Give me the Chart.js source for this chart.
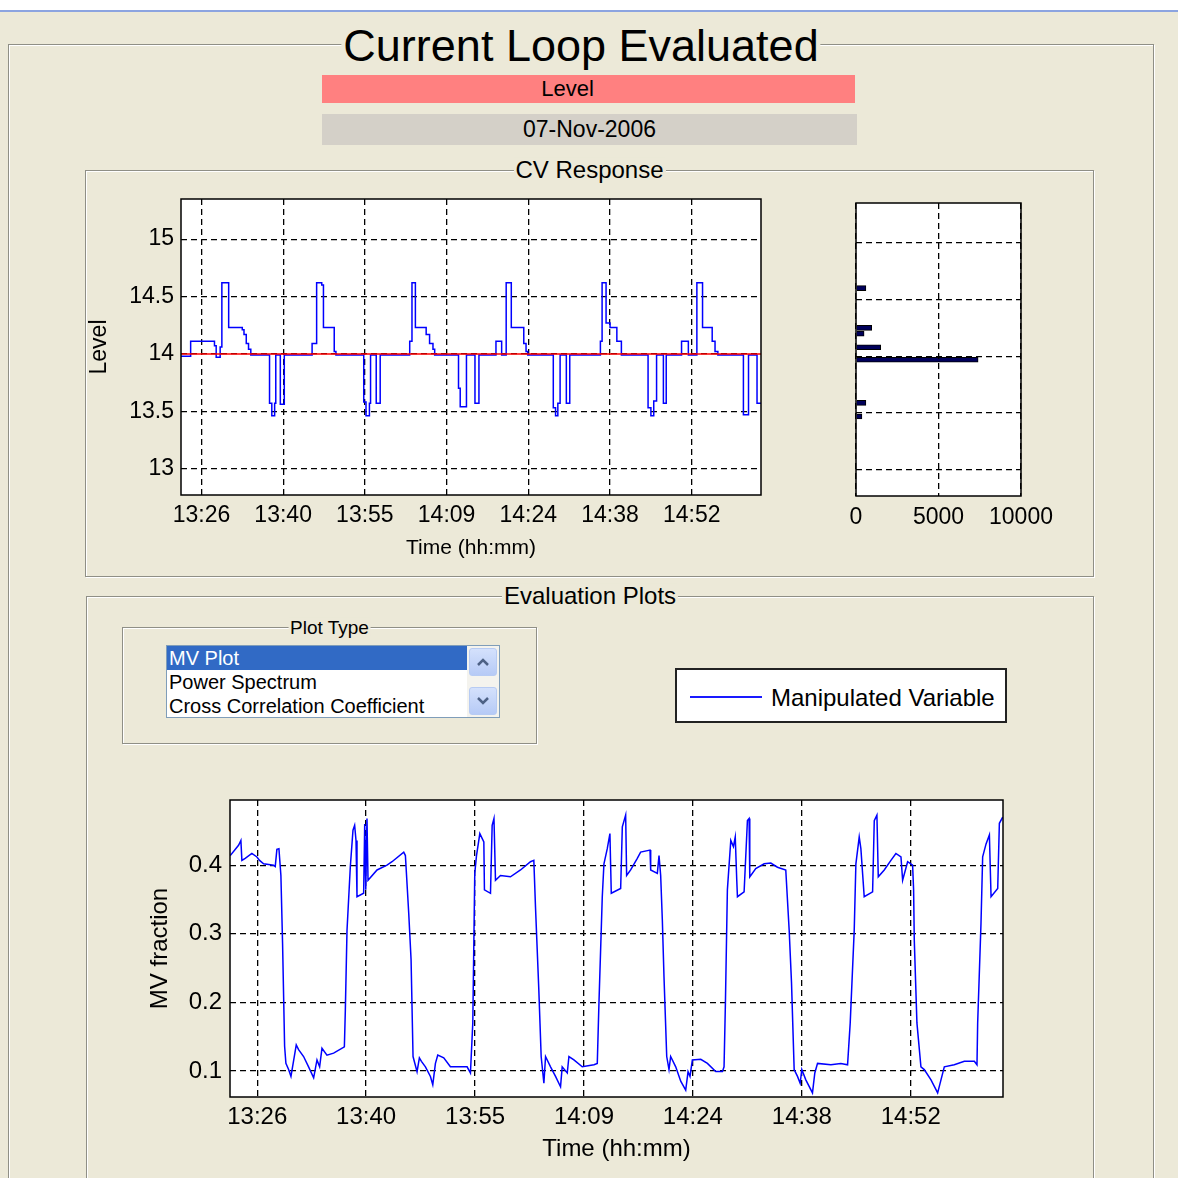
<!DOCTYPE html>
<html><head><meta charset="utf-8">
<script src="https://cdn.jsdelivr.net/npm/chart.js@4.4.1/dist/chart.umd.min.js"></script>
<style>
html,body{margin:0;padding:0;}
body{width:1178px;height:1178px;background:#ECE9D8;position:relative;overflow:hidden;font-family:"Liberation Sans",Arial,sans-serif;color:#000;}
.topstrip{position:absolute;left:0;top:0;width:1178px;height:10px;background:#fff;border-bottom:2px solid #8CA4E0;}
.frame{position:absolute;border:1px solid #8f8f86;box-shadow:1px 1px 0 #fff, inset 1px 1px 0 #fff;box-sizing:border-box;}
.ftitle{position:absolute;left:50%;top:0;transform:translate(-50%,-55%);background:#ECE9D8;padding:0 2px;white-space:nowrap;line-height:1;}
.bar{position:absolute;text-align:center;}
canvas{position:absolute;}
.list{position:absolute;left:166px;top:645px;width:334px;height:73px;background:#fff;border:1px solid #7F9DB9;box-sizing:border-box;font-size:20px;}
.row{position:absolute;left:0;width:300px;height:24px;line-height:24px;padding-left:2px;white-space:nowrap;}
.sb{position:absolute;right:0;top:0;width:32px;height:71px;background:#F4F3EE;}
.btn{position:absolute;left:2px;width:28px;height:28px;box-sizing:border-box;border:1px solid #B7CBF3;border-radius:3px;background:linear-gradient(#D4E1FC,#B6CAF6);}
.legend{position:absolute;left:675px;top:668px;width:332px;height:55px;background:#fff;border:2px solid #222;box-sizing:border-box;}
</style></head>
<body>
<div class="topstrip"></div>
<div class="frame" style="left:8px;top:44px;width:1146px;height:1200px;">
  <div class="ftitle" style="font-size:45px;transform:translate(-50%,-50%);">Current Loop Evaluated</div>
</div>
<div class="bar" style="left:322px;top:75px;width:533px;height:28px;line-height:28px;background:#FF8080;font-size:22px;"><span style="position:relative;left:-21px;">Level</span></div>
<div class="bar" style="left:322px;top:114px;width:535px;height:31px;line-height:31px;background:#D4D0C8;font-size:23px;">07-Nov-2006</div>
<div class="frame" style="left:85px;top:170px;width:1009px;height:407px;">
  <div class="ftitle" style="font-size:24px;">CV Response</div>
</div>
<div class="frame" style="left:86px;top:596px;width:1008px;height:700px;">
  <div class="ftitle" style="font-size:24px;">Evaluation Plots</div>
</div>
<div class="frame" style="left:122px;top:627px;width:415px;height:117px;">
  <div class="ftitle" style="font-size:19px;">Plot Type</div>
</div>
<div class="list">
  <div class="row" style="top:0;background:#316AC5;color:#fff;">MV Plot</div>
  <div class="row" style="top:24px;">Power Spectrum</div>
  <div class="row" style="top:48px;">Cross Correlation Coefficient</div>
  <div class="sb">
    <div class="btn" style="top:2px;"><svg width="26" height="26" style="position:absolute;left:0;top:0"><polyline points="8,16 13,11 18,16" fill="none" stroke="#4D6185" stroke-width="2.5"/></svg></div>
    <div class="btn" style="top:41px;"><svg width="26" height="26" style="position:absolute;left:0;top:0"><polyline points="8,10 13,15 18,10" fill="none" stroke="#4D6185" stroke-width="2.5"/></svg></div>
  </div>
</div>
<div class="legend">
  <div style="position:absolute;left:13px;top:26px;width:72px;height:2px;background:#1a1aff;"></div>
  <div style="position:absolute;left:94px;top:2px;height:51px;line-height:51px;font-size:24px;white-space:nowrap;">Manipulated Variable</div>
</div>

<canvas id="cv" width="690" height="375" style="left:82px;top:190px;"></canvas>
<canvas id="hist" width="240" height="342" style="left:830px;top:194px;"></canvas>
<canvas id="mv" width="880" height="378" style="left:142px;top:790px;"></canvas>

<script>
// ---- Data (time in minutes after midnight) ----
const timeTickValues = [806.4, 820.8, 835.2, 849.6, 864.0, 878.4, 892.8];
const timeTickLabels = ['13:26', '13:40', '13:55', '14:09', '14:24', '14:38', '14:52'];
const timeMin = 802.8, timeMax = 905.0;

const levelTicks = [13, 13.5, 14, 14.5, 15];
const levelMin = 12.77, levelMax = 15.35;
const mvTicks = [0.1, 0.2, 0.3, 0.4];
const mvMin = 0.062, mvMax = 0.495;
const histTicks = [0, 5000, 10000];

const levelTime = [802.7, 804.5, 808.7, 809.0, 809.7, 810.0, 811.2, 813.6, 813.9, 814.3, 814.7, 815.1,
  818.4, 818.8, 819.3, 819.5, 820.3, 821.0,
  825.9, 826.7, 827.6, 827.9, 829.8, 830.1,
  835.0, 835.4, 836.0, 836.2, 837.2, 837.9,
  843.1, 843.5, 844.1, 846.0, 846.6, 847.2, 847.5,
  851.7, 852.0, 853.1, 854.6, 855.3,
  858.3, 859.3, 860.1, 861.0, 863.2, 863.6, 863.9,
  868.4, 868.8, 869.2, 869.6, 870.7, 871.3,
  876.7, 877.0, 877.7, 878.4, 879.6, 880.4,
  885.1, 885.6, 886.1, 886.6, 887.8, 888.3,
  891.0, 892.2, 893.7, 894.7, 896.4, 896.9, 897.4,
  901.9, 902.8, 904.3, 905.0];
const levelValue = [13.98, 14.11, 14.07, 13.97, 14.06, 14.62, 14.23, 14.21, 14.17, 14.09, 14.04, 13.99,
  13.57, 13.46, 13.57, 13.99, 13.56, 13.99,
  14.09, 14.62, 14.60, 14.23, 14.02, 13.99,
  13.58, 13.46, 13.57, 13.99, 13.57, 13.99,
  14.11, 14.62, 14.23, 14.17, 14.09, 14.04, 13.99,
  13.70, 13.54, 13.99, 13.57, 13.99,
  14.11, 13.99, 14.62, 14.23, 14.09, 14.02, 13.99,
  13.53, 13.46, 13.57, 13.99, 13.57, 13.99,
  14.11, 14.62, 14.27, 14.23, 14.11, 13.99,
  13.53, 13.46, 13.59, 13.99, 13.57, 13.99,
  14.11, 13.99, 14.62, 14.23, 14.11, 14.02, 13.99,
  13.47, 13.99, 13.57, 13.57];

const setpointTime = [802.7, 905.0];
const setpointValue = [14.0, 14.0];

const histLevel = [14.60, 14.25, 14.20, 14.08, 13.97, 13.59, 13.47];
const histCount = [600, 950, 490, 1500, 7400, 600, 360];

const mvTime = [802.83, 803.93, 804.24, 804.37, 804.81, 805.69, 806.36, 806.71, 807.24, 808.56, 808.78, 809.00, 809.27, 809.53, 809.75,
  810.02, 810.19, 810.55, 810.86, 811.56, 811.87, 812.53, 813.19, 813.86, 814.30, 814.65, 814.96, 815.62, 816.50, 817.92,
  818.05, 818.27, 818.71, 819.06, 819.28, 819.46, 819.59, 820.47, 820.61, 820.75, 820.91, 821.05, 822.24, 823.56, 824.22,
  825.77, 825.99, 826.43, 826.74, 827.00, 827.53, 827.84, 828.11, 828.64, 829.30, 829.61, 829.96, 830.27, 831.06, 831.94,
  834.15, 834.59, 834.90, 835.16, 835.39, 835.83, 836.36, 836.44, 837.24, 837.46, 837.70, 837.90, 838.56, 839.88, 841.21,
  842.53, 842.97, 843.19, 843.63, 843.94, 844.30, 844.52, 845.18, 845.84, 846.50, 846.72, 847.39, 847.61, 848.27, 849.37,
  850.92, 851.36, 851.58, 852.02, 852.24, 852.68, 853.03, 853.12, 853.21, 854.45, 854.67, 855.11, 855.24, 855.77, 856.65,
  857.09, 858.33, 858.42, 859.30, 859.52, 859.74, 859.96, 860.18, 860.54, 860.84, 861.06, 861.73, 862.39, 863.05, 863.36,
  863.62, 863.93, 865.04, 865.92, 867.02, 867.90, 868.12, 868.30, 868.56, 869.01, 869.36, 869.60, 869.80, 869.89, 870.77,
  871.21, 871.43, 871.52, 872.31, 873.42, 874.30, 875.18, 876.28, 876.73, 877.04, 877.39, 877.83, 878.18, 878.40, 878.93,
  879.81, 880.12, 880.48, 882.24, 883.56, 884.45, 884.80, 885.33, 885.55, 885.99, 886.21, 886.65, 887.76, 887.98, 888.33,
  888.51, 889.30, 890.18, 890.84, 891.51, 891.73, 892.39, 893.05, 893.18, 893.27, 893.62, 894.15, 894.59, 895.48, 896.36,
  896.80, 897.24, 898.56, 899.89, 901.21, 901.56, 901.65, 902.09, 902.31, 902.76, 903.20, 903.42, 904.30, 904.52, 904.96];
const mvValue = [0.414, 0.429, 0.436, 0.407, 0.410, 0.417, 0.412, 0.407, 0.402, 0.400, 0.398, 0.423, 0.424, 0.385, 0.286,
  0.136, 0.111, 0.102, 0.092, 0.138, 0.131, 0.121, 0.106, 0.090, 0.116, 0.106, 0.133, 0.123, 0.126, 0.135,
  0.189, 0.305, 0.398, 0.451, 0.458, 0.436, 0.354, 0.359, 0.460, 0.364, 0.468, 0.378, 0.393, 0.400, 0.405,
  0.419, 0.414, 0.330, 0.262, 0.121, 0.099, 0.119, 0.114, 0.106, 0.092, 0.080, 0.111, 0.123, 0.119, 0.106,
  0.106, 0.097, 0.170, 0.388, 0.414, 0.446, 0.434, 0.364, 0.359, 0.458, 0.468, 0.378, 0.385, 0.383, 0.393,
  0.405, 0.407, 0.339, 0.218, 0.121, 0.082, 0.121, 0.106, 0.092, 0.077, 0.106, 0.097, 0.121, 0.116, 0.106,
  0.109, 0.111, 0.199, 0.354, 0.402, 0.424, 0.446, 0.402, 0.359, 0.366, 0.456, 0.473, 0.385, 0.393, 0.410,
  0.419, 0.422, 0.393, 0.388, 0.414, 0.385, 0.320, 0.237, 0.121, 0.102, 0.121, 0.106, 0.085, 0.072, 0.099,
  0.092, 0.116, 0.117, 0.111, 0.099, 0.099, 0.106, 0.199, 0.364, 0.436, 0.427, 0.441, 0.378, 0.354, 0.361,
  0.465, 0.468, 0.383, 0.395, 0.402, 0.403, 0.397, 0.393, 0.305, 0.228, 0.102, 0.092, 0.082, 0.102, 0.087,
  0.068, 0.097, 0.111, 0.109, 0.111, 0.109, 0.170, 0.305, 0.402, 0.441, 0.424, 0.354, 0.361, 0.465, 0.473,
  0.383, 0.393, 0.407, 0.417, 0.412, 0.378, 0.405, 0.400, 0.364, 0.291, 0.170, 0.106, 0.102, 0.087, 0.068,
  0.087, 0.106, 0.109, 0.114, 0.114, 0.109, 0.170, 0.315, 0.412, 0.431, 0.444, 0.354, 0.366, 0.461, 0.470];

// ---- Rendering ----
Chart.defaults.font.family = '"Liberation Sans", Arial, sans-serif';
Chart.defaults.color = '#000';
Chart.defaults.animation = false;

const GRID = {color: '#000', lineWidth: 1.3, drawTicks: false, offset: false};
const BORDER = {display: false, dash: [6, 4]};

const boxPlugin = {
  id: 'boxPlugin',
  beforeDraw(c) {
    const a = c.chartArea, x = c.ctx;
    x.save(); x.fillStyle = '#fff';
    x.fillRect(a.left, a.top, a.right - a.left, a.bottom - a.top);
    x.restore();
  },
  afterDraw(c) {
    const a = c.chartArea, x = c.ctx;
    x.save(); x.strokeStyle = '#000'; x.lineWidth = 1.5;
    x.strokeRect(a.left, a.top, a.right - a.left, a.bottom - a.top);
    x.restore();
  }
};
const fitY = w => s => { s.width = w; s.paddingTop = 0; s.paddingBottom = 0; };
const fitX = h => s => { s.height = h; s.paddingLeft = 0; s.paddingRight = 0; };
const setTicks = vals => s => { s.ticks = vals.map(v => ({value: v})); };
const pts = (xs, ys) => xs.map((x, i) => ({x: x, y: ys[i]}));

function timeAxis(h, pad, tickSize, titleSize) {
  return {
    type: 'linear', min: timeMin, max: timeMax, offset: false,
    afterBuildTicks: setTicks(timeTickValues), afterFit: fitX(h),
    ticks: {font: {size: tickSize}, padding: pad, autoSkip: false, maxRotation: 0,
      callback: (v, i) => timeTickLabels[i]},
    grid: GRID, border: BORDER,
    title: {display: true, text: 'Time (hh:mm)', font: {size: titleSize}}
  };
}

new Chart(document.getElementById('cv'), {
  type: 'line',
  data: {datasets: [
    {label: 'Setpoint', data: pts(setpointTime, setpointValue), borderColor: '#ff0000', borderWidth: 1.5, pointRadius: 0, order: 0},
    {label: 'Level', data: pts(levelTime, levelValue), borderColor: '#0000ff', borderWidth: 1.5, pointRadius: 0, stepped: true, order: 1}
  ]},
  options: {
    responsive: false,
    layout: {padding: {top: 9, right: 11, bottom: 0, left: 0}},
    plugins: {legend: {display: false}, tooltip: {enabled: false}},
    scales: {
      x: timeAxis(70, 7, 23, 21),
      y: {type: 'linear', min: levelMin, max: levelMax,
        afterBuildTicks: setTicks(levelTicks), afterFit: fitY(99),
        ticks: {font: {size: 23}, padding: 7, callback: v => String(v)},
        grid: GRID, border: BORDER,
        title: {display: true, text: 'Level', font: {size: 23}}}
    }
  },
  plugins: [boxPlugin]
});

new Chart(document.getElementById('hist'), {
  type: 'bar',
  data: {datasets: [
    {label: 'Count', data: histLevel.map((l, i) => ({x: histCount[i], y: l})),
      backgroundColor: '#00005a', borderColor: '#000', borderWidth: 1, barThickness: 5}
  ]},
  options: {
    responsive: false, indexAxis: 'y',
    layout: {padding: {top: 9, right: 49, bottom: 0, left: 0}},
    plugins: {legend: {display: false}, tooltip: {enabled: false}},
    scales: {
      x: {type: 'linear', min: 0, max: 10000, offset: false,
        afterBuildTicks: setTicks(histTicks), afterFit: fitX(40),
        ticks: {font: {size: 23}, padding: 8, autoSkip: false, maxRotation: 0, callback: v => String(v)},
        grid: Object.assign({}, GRID, {z: 1}), border: BORDER},
      y: {type: 'linear', min: levelMin, max: levelMax, offset: false,
        afterBuildTicks: setTicks(levelTicks), afterFit: fitY(26),
        ticks: {display: false},
        grid: Object.assign({}, GRID, {z: 1}), border: BORDER}
    }
  },
  plugins: [boxPlugin]
});

new Chart(document.getElementById('mv'), {
  type: 'line',
  data: {datasets: [
    {label: 'Manipulated Variable', data: pts(mvTime, mvValue), borderColor: '#0000ff', borderWidth: 1.5, pointRadius: 0, tension: 0}
  ]},
  options: {
    responsive: false,
    layout: {padding: {top: 10, right: 19, bottom: 0, left: 0}},
    plugins: {legend: {display: false}, tooltip: {enabled: false}},
    scales: {
      x: timeAxis(71, 6, 24, 24),
      y: {type: 'linear', min: mvMin, max: mvMax,
        afterBuildTicks: setTicks(mvTicks), afterFit: fitY(88),
        ticks: {font: {size: 24}, padding: 8, callback: v => String(v)},
        grid: GRID, border: BORDER,
        title: {display: true, text: 'MV fraction', font: {size: 24}}}
    }
  },
  plugins: [boxPlugin]
});
</script>
</body></html>
